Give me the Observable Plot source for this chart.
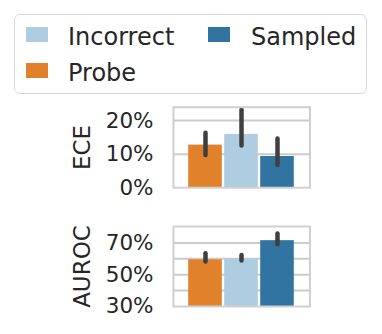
<!DOCTYPE html>
<html>
<head>
<meta charset="utf-8">
<script src="https://cdn.jsdelivr.net/npm/d3@7"></script>
<script src="https://cdn.jsdelivr.net/npm/@observablehq/plot@0.6"></script>
<style>
  html, body { margin: 0; padding: 0; background: #fff; }
  #root { position: relative; width: 382px; height: 334px; font-family: "DejaVu Sans", sans-serif; color: #262626; overflow: hidden; }
  .legend { position: absolute; left: 14px; top: 14px; width: 353px; height: 79.5px; border: 1.5px solid #d9d9d9; border-radius: 6px; box-sizing: border-box; }
  .item { position: absolute; font-size: 24px; line-height: 1; white-space: nowrap; }
  .sw { position: absolute; width: 22px; height: 14.5px; }
  .panel { position: absolute; left: 0; }
</style>
</head>
<body>
<div id="root"></div>
<script>
const categories = ["Probe", "Incorrect", "Sampled"];
const colors = ["#e1812c", "#aecde0", "#3274a1"];
const legendOrder = ["Incorrect", "Sampled", "Probe"];

const eceValues = [0.127, 0.159, 0.093];
const eceLow = [0.096, 0.124, 0.066];
const eceHigh = [0.162, 0.232, 0.145];

const aurocValues = [0.594, 0.598, 0.714];
const aurocLow = [0.580, 0.586, 0.688];
const aurocHigh = [0.632, 0.621, 0.756];

const eceTicks = [0, 0.1, 0.2];
const eceGrid = [0.1, 0.2];
const aurocTicks = [0.3, 0.5, 0.7];
const aurocGrid = [0.4, 0.5, 0.6, 0.7];

const root = document.getElementById("root");

// Legend
const legend = document.createElement("div");
legend.className = "legend";
root.appendChild(legend);
const legendPos = {
  Incorrect: {sx: 11, sy: 12, tx: 53, ty: 10},
  Sampled: {sx: 193, sy: 12, tx: 236, ty: 10},
  Probe: {sx: 11, sy: 48, tx: 53, ty: 46}
};
for (const name of legendOrder) {
  const p = legendPos[name];
  const sw = document.createElement("div");
  sw.className = "sw";
  sw.style.left = p.sx + "px";
  sw.style.top = p.sy + "px";
  sw.style.background = colors[categories.indexOf(name)];
  legend.appendChild(sw);
  const t = document.createElement("div");
  t.className = "item";
  t.style.left = p.tx + "px";
  t.style.top = p.ty + "px";
  t.textContent = name;
  legend.appendChild(t);
}

function panel({label, values, low, high, domain, ticks, grid, top, height, marginTop, marginBottom}) {
  const data = categories.map((c, i) => ({cat: c, v: values[i], lo: low[i], hi: high[i]}));
  const chart = Plot.plot({
    width: 382,
    height,
    marginLeft: 173,
    marginRight: 72.5,
    marginTop,
    marginBottom,
    style: {fontFamily: "DejaVu Sans, sans-serif", fontSize: "21.5px", color: "#262626", background: "#fff", overflow: "visible"},
    x: {domain: categories, paddingInner: 0, paddingOuter: 0.375, axis: null},
    y: {domain, axis: null},
    color: {domain: categories, range: colors},
    marks: [
      Plot.gridY(grid, {stroke: "#cccccc", strokeOpacity: 1, strokeWidth: 2}),
      Plot.barY(data, {x: "cat", y: "v", fill: "cat", insetLeft: 1.2, insetRight: 1.2, clip: true}),
      Plot.ruleX(data, {x: "cat", y1: "lo", y2: "hi", stroke: "#3f3f3f", strokeWidth: 4.5, strokeLinecap: "round"}),
      Plot.frame({stroke: "#d0d0d0", strokeWidth: 2}),
      Plot.axisY(ticks, {tickSize: 0, tickPadding: 20, tickFormat: d3.format(".0%"), label: null, fontSize: 21.5}),
      Plot.text([label], {text: d => d, frameAnchor: "left", textAnchor: "middle", lineAnchor: "middle", rotate: -90, dx: -90.5, fontSize: 23, fill: "#262626"})
    ]
  });
  chart.classList.add("panel");
  chart.style.top = top + "px";
  chart.style.position = "absolute";
  root.appendChild(chart);
}

panel({label: "ECE", values: eceValues, low: eceLow, high: eceHigh, domain: [0, 0.24], ticks: eceTicks, grid: eceGrid,
       top: 95, height: 105, marginTop: 11.7, marginBottom: 12.8});
panel({label: "AUROC", values: aurocValues, low: aurocLow, high: aurocHigh, domain: [0.3, 0.803], ticks: aurocTicks, grid: aurocGrid,
       top: 210, height: 124, marginTop: 16, marginBottom: 28});
</script>
</body>
</html>
